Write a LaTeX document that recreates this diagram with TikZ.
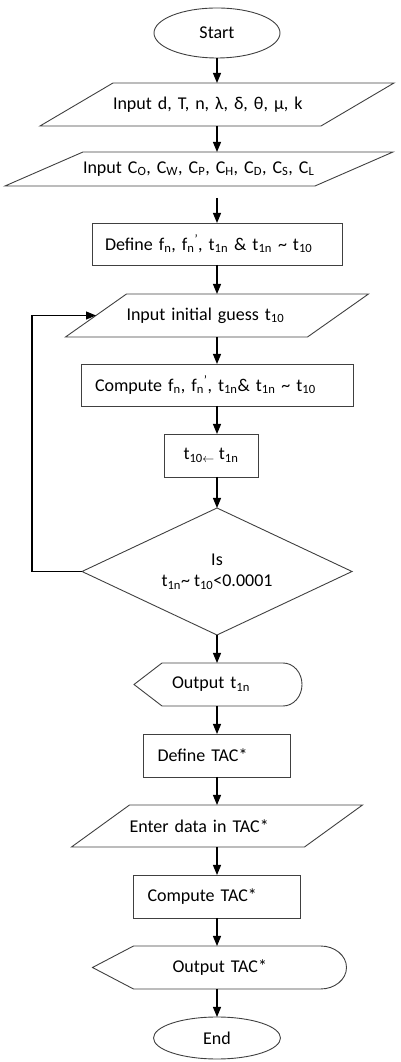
\documentclass[tikz,border=0pt]{standalone}
\usepackage{fontspec}
\setmainfont{Carlito}
\usetikzlibrary{arrows.meta, positioning, calc, shapes.geometric}

% outline of an input/output box around node #1, slant #2
\newcommand{\ioshape}[2]{%
  \draw [outline] ($(#1.north west)+(#2/2,0)$) -- ($(#1.north east)+(#2/2,0)$)
    -- ($(#1.south east)-(#2/2,0)$) -- ($(#1.south west)-(#2/2,0)$) -- cycle;}
% outline of a display box around node #1, point #2, round end #3
\newcommand{\dispshape}[3]{%
  \draw [outline] ($(#1.west)-(#2,0)$) -- (#1.north west) -- ($(#1.north east)-(#3,0)$)
    .. controls ($(#1.north east)-(0.45*#3,0)$) and ($(#1.east)+(0,12)$) .. (#1.east)
    .. controls ($(#1.east)-(0,12)$) and ($(#1.south east)-(0.45*#3,0)$) .. ($(#1.south east)-(#3,0)$)
    -- (#1.south west) -- cycle;}

\begin{document}
\begin{tikzpicture}[
    x=1pt, y=1pt,
    font=\fontsize{18pt}{21pt}\selectfont,
    outline/.style={
        draw=black!75,
        line width=0.9pt
    },
    term/.style={
        outline,
        ellipse,
        minimum width=126pt,
        minimum height=50pt,
        inner sep=0pt,
        outer sep=0pt
    },
    proc/.style={
        outline,
        rectangle,
        minimum height=43pt,
        inner ysep=0pt,
        outer sep=0pt,
        align=left
    },
    io/.style={
        rectangle,
        minimum height=43pt,
        inner ysep=0pt,
        outer sep=0pt,
        align=left
    },
    decision/.style={
        outline,
        diamond,
        aspect=2.1,
        minimum width=270pt,
        minimum height=127pt,
        inner sep=0pt,
        outer sep=0pt,
        align=center
    },
    arrow/.style={
        -{Triangle[length=10pt, width=8pt]},
        line width=1.1pt
    }
]
\useasboundingbox (0,0) rectangle (401,1062);

% Nodes
\node (start) [term] at (217,1029) {Start};
\node (par) [io, below=25pt of start, inner xsep=36.5pt, text width=208pt] {Input~d,~T,~n,~λ,~δ,~θ,~μ,~k};
\node (cost) [io, below=26pt of par, xshift=-18pt, minimum height=34pt, inner xsep=39pt, text width=232pt]
    {Input~C\textsubscript{O},~C\textsubscript{W},~C\textsubscript{P},~C\textsubscript{H},~C\textsubscript{D},~C\textsubscript{S},~C\textsubscript{L}};
\node (def) [proc, below=37pt of cost, xshift=18pt, minimum height=42pt, inner xsep=13pt, text width=224pt]
    {Define~f\textsubscript{n},~f\textsubscript{n}\textsuperscript{'},~t\textsubscript{1n}~\&~t\textsubscript{1n}~\textasciitilde{}~t\textsubscript{10}};
\node (guess) [io, below=29pt of def, inner xsep=30.5pt, text width=181pt] {Input initial guess t\textsubscript{10}};
\node (comp) [proc, below=27pt of guess, minimum height=42pt, inner xsep=14pt, text width=244pt]
    {Compute~f\textsubscript{n},~f\textsubscript{n}\textsuperscript{'},~t\textsubscript{1n}\&~t\textsubscript{1n}~\textasciitilde{}~t\textsubscript{10}};
\node (upd) [proc, align=center, below=28pt of comp, xshift=-6pt, minimum width=94pt] {t\textsubscript{10$\leftarrow$} t\textsubscript{1n}};
\node (test) [decision, below=31pt of upd, xshift=6pt] {Is\\t\textsubscript{1n}\textasciitilde{} t\textsubscript{10}<0.0001};
\node (out) [io, below=28pt of test, xshift=15pt, inner xsep=10pt, text width=120pt] {Output t\textsubscript{1n}};
\node (deftac) [proc, below=28pt of out, xshift=-15pt, inner xsep=14pt, text width=119pt] {Define TAC*};
\node (enter) [io, below=28pt of deftac, minimum height=42pt, inner xsep=29pt, text width=175pt] {Enter data in TAC*};
\node (comptac) [proc, below=28pt of enter, inner xsep=14pt, text width=139pt] {Compute TAC*};
\node (outtac) [io, below=28pt of comptac, xshift=23pt, inner xsep=39pt, text width=135pt] {Output TAC*};
\node (end) [term, below=28pt of outtac, xshift=-23pt, minimum width=127pt, minimum height=42pt] {End};

% Outlines
\ioshape{par}{73}
\ioshape{cost}{78}
\ioshape{guess}{61}
\ioshape{enter}{58}
\dispshape{out}{28}{19}
\dispshape{outtac}{41}{26}

% Paths
\draw [arrow] (start) -- (par);
\draw [arrow] (par) -- (par |- cost.north);
\draw [arrow] ($(cost.south -| def)+(0,-12)$) -- (def);
\draw [arrow] (def) -- (guess);
\draw [arrow] (guess) -- (comp);
\draw [arrow] (comp) -- (comp |- upd.north);
\draw [arrow] (upd.south -| test) -- (test);
\draw [arrow] (test) -- (test |- out.north);
\draw [arrow] (out.south -| deftac) -- (deftac);
\draw [arrow] (deftac) -- (enter);
\draw [arrow] (enter) -- (comptac);
\draw [arrow] (comptac) -- (comptac |- outtac.north);
\draw [arrow] (outtac.south -| end) -- (end);
\draw [arrow] (test.west) -- ++(-50,0) |- (guess.west);

\end{tikzpicture}
\end{document}
